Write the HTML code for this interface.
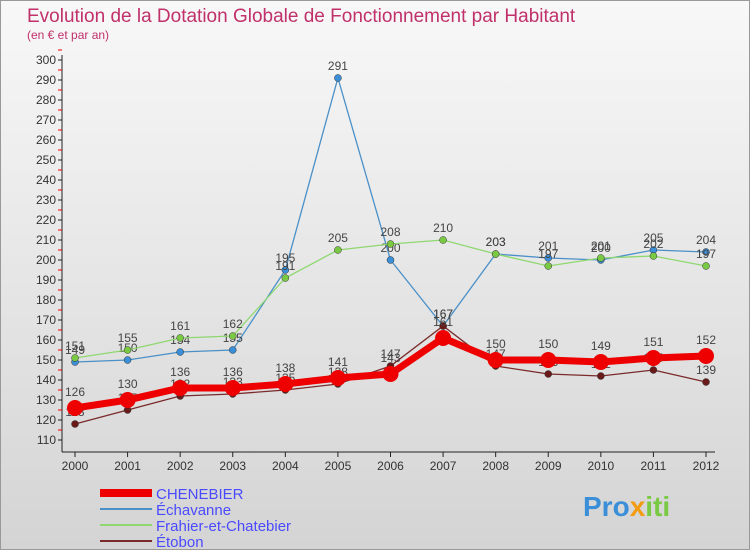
<!DOCTYPE html>
<html><head><meta charset="utf-8"><style>
body{margin:0;}
svg text{font-family:"Liberation Sans",sans-serif;}
</style></head><body>
<svg id="c" width="750" height="550" xmlns="http://www.w3.org/2000/svg">
<defs><linearGradient id="bg" x1="0" y1="0" x2="0" y2="1"><stop offset="0" stop-color="#f8f8f8"/><stop offset="1" stop-color="#d4d4d4"/></linearGradient></defs>
<rect x="0.5" y="0.5" width="749" height="549" fill="url(#bg)" stroke="#999"/>
<text x="27" y="22" font-size="19" fill="#c0306a">Evolution de la Dotation Globale de Fonctionnement par Habitant</text>
<text x="27" y="39" font-size="12" fill="#c0306a">(en € et par an)</text>
<g id="axes"></g><g id="series"></g><g id="legend"></g>
<text x="583" y="516" font-size="28" font-weight="bold" fill="#3a8fd8">Pro<tspan fill="#f39c12">x</tspan><tspan fill="#7ac943">iti</tspan></text>
</svg>
<script>
const years=[2000,2001,2002,2003,2004,2005,2006,2007,2008,2009,2010,2011,2012];
const chenebier=[126,130,136,136,138,141,143,161,150,150,149,151,152];
const echavanne=[149,150,154,155,195,291,200,167,203,201,200,205,204];
const frahier=[151,155,161,162,191,205,208,210,203,197,201,202,197];
const etobon=[118,125,132,133,135,138,147,167,147,143,142,145,139];
const yTicks=[110,120,130,140,150,160,170,180,190,200,210,220,230,240,250,260,270,280,290,300];
const seriesNames=["CHENEBIER","Échavanne","Frahier-et-Chatebier","Étobon"];
const NS="http://www.w3.org/2000/svg";
const X=i=>75+i*(706-75)/(years.length-1);
const Y=v=>440-(v-110)*2;
function mk(t,a,p){const e=document.createElementNS(NS,t);for(const k in a)e.setAttribute(k,a[k]);(p||document.getElementById('series')).appendChild(e);return e;}
const ax=document.getElementById('axes');
let l=mk('line',{x1:62,y1:55,x2:62,y2:452,stroke:'#222'},ax);


l=mk('line',{x1:62,y1:452,x2:715,y2:452,stroke:'#222'},ax);


yTicks.forEach(v=>{mk('line',{x1:58,y1:Y(v),x2:62,y2:Y(v),stroke:'#222'},ax);
mk('line',{x1:58,y1:Y(v)-10,x2:62,y2:Y(v)-10,stroke:'#e00'},ax);
const t=mk('text',{x:56,y:Y(v)+4,'font-size':12,'text-anchor':'end',fill:'#333'},ax);t.textContent=v;

});
years.forEach((y,i)=>{mk('line',{x1:X(i),y1:452,x2:X(i),y2:457,stroke:'#222'},ax);
const t=mk('text',{x:X(i),y:470,'font-size':12,'text-anchor':'middle',fill:'#333'},ax);t.textContent=y;

});
const defs=[[echavanne,'#4a90c8',1.3,3.5,'#3a8fd8'],[frahier,'#8fd870',1.3,3.5,'#7ac943'],[etobon,'#7a2a2a',1.3,3.5,'#6b1a1a'],[chenebier,'#ee0000',7,8,'#ee0000']];
const order=[1,2,3,0];
defs.forEach((d,k)=>{const [arr,col,w,r,fc]=d;const g=mk('g',{});


mk('polyline',{points:arr.map((v,i)=>X(i)+','+Y(v)).join(' '),fill:'none',stroke:col,'stroke-width':w},g);
arr.forEach((v,i)=>{const c=mk('circle',{cx:X(i),cy:Y(v),r:r,fill:fc,stroke:'#333','stroke-width':k==3?0:0.5},g);


const t=mk('text',{x:X(i),y:Y(v)-8-(k==3?4:0),'font-size':12,'text-anchor':'middle',fill:'#444'},g);t.textContent=v;});});
const lg=document.getElementById('legend');
const lc=[['#ee0000',8],['#4a90c8',2],['#8fd870',2],['#7a2a2a',2]];
seriesNames.forEach((n,i)=>{const y=493+i*16;const g=mk('g',{},lg);


mk('line',{x1:100,y1:y,x2:152,y2:y,stroke:lc[i][0],'stroke-width':lc[i][1]},g);
const t=mk('text',{x:156,y:y+6,'font-size':15,fill:'#4a4aff'},g);t.textContent=n;});
</script>
</body></html>
